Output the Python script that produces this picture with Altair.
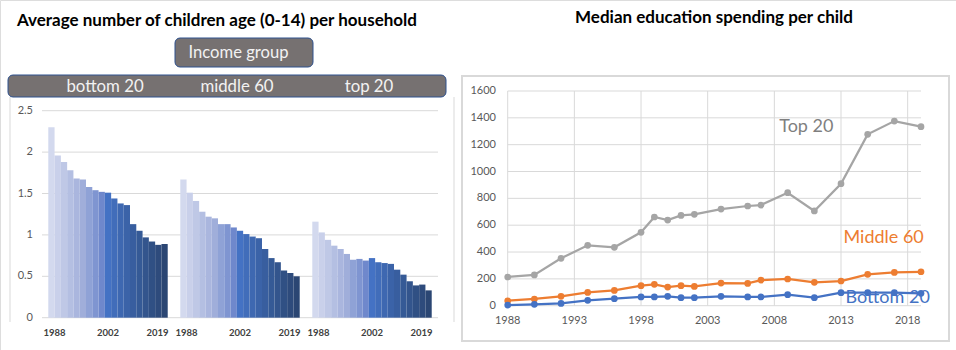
import altair as alt
import pandas as pd

# ---------------- data ----------------
years = [1988, 1990, 1992, 1994, 1996, 1998, 1999, 2000, 2001, 2002,
         2004, 2006, 2007, 2009, 2011, 2013, 2015, 2017, 2019]

groups = ["bottom 20", "middle 60", "top 20"]
children_bottom20 = [2.30, 1.96, 1.88, 1.78, 1.68, 1.67, 1.58, 1.54, 1.52, 1.51,
                     1.44, 1.38, 1.36, 1.13, 1.05, 0.97, 0.92, 0.88, 0.89]
children_middle60 = [1.67, 1.51, 1.41, 1.28, 1.22, 1.20, 1.13, 1.13, 1.09, 1.05,
                     1.01, 0.98, 0.96, 0.83, 0.72, 0.67, 0.57, 0.54, 0.50]
children_top20 = [1.16, 1.03, 0.94, 0.87, 0.83, 0.77, 0.70, 0.71, 0.69, 0.72,
                  0.67, 0.66, 0.65, 0.58, 0.52, 0.44, 0.39, 0.40, 0.33]
bar_colors = ["#D3D9EE", "#C9D0EA", "#BFC8E6", "#B4BFE2", "#AAB6DE", "#A0AEDA",
              "#8FA2D6", "#7F95D1", "#6F88CC", "#4472C4", "#416DBA", "#3E68B1",
              "#3B63A8", "#385E9F", "#355A96", "#33558D", "#305084", "#2E4B7C",
              "#2B4673"]
bar_y_ticks = [0, 0.5, 1, 1.5, 2, 2.5]
bar_x_label_years = [1988, 2002, 2019]

series = ["Top 20", "Middle 60", "Bottom 20"]
spend_top20 = [214, 229, 353, 450, 435, 547, 661, 638, 673, 681,
               720, 743, 750, 842, 706, 909, 1277, 1376, 1334]
spend_middle60 = [37, 50, 70, 99, 114, 149, 159, 139, 149, 144,
                  169, 166, 191, 199, 174, 184, 234, 248, 253]
spend_bottom20 = [5, 10, 17, 40, 52, 65, 65, 70, 60, 60,
                  70, 65, 65, 82, 60, 97, 97, 97, 92]
series_colors = ["#A5A5A5", "#ED7D31", "#4472C4"]
series_label_colors = ["#7F7F7F", "#ED7D31", "#4472C4"]
series_label_year = [2010.4, 2016.2, 2016.5]
series_label_value = [1332, 507, 57]
line_y_ticks = [0, 200, 400, 600, 800, 1000, 1200, 1400, 1600]
line_x_ticks = [1988, 1993, 1998, 2003, 2008, 2013, 2018]

left_title = "Average number of children age (0-14) per household"
right_title = "Median education spending per child"
header_title = "Income group"

FONT = "Lato"
GRID = "#D9D9D9"
LABEL = "#595959"

# ---------------- tables ----------------
GAP = 2
per_group = len(years) + GAP
total_slots = 1 + len(groups) * len(years) + (len(groups) - 1) * GAP + 1

bar_rows, tick_rows, group_rows = [], [], []
for gi, (g, vals) in enumerate(zip(groups, [children_bottom20, children_middle60, children_top20])):
    start = 1 + gi * per_group
    for i, (yr, v) in enumerate(zip(years, vals)):
        bar_rows.append({"group": g, "year": str(yr), "slot": start + i,
                         "slot_end": start + i + 1, "value": v, "base": 0})
    for k, yr in enumerate(bar_x_label_years):
        tick_rows.append({"slot": start + years.index(yr) + 0.5, "label": str(yr), "pos": k})
    group_rows.append({"slot": start + len(years) / 2, "group": g})
bar_df = pd.DataFrame(bar_rows)
bar_tick_df = pd.DataFrame(tick_rows)
group_df = pd.DataFrame(group_rows)
bar_y_df = pd.DataFrame({"v": bar_y_ticks, "label": [f"{v:g}" for v in bar_y_ticks]})

line_rows = []
for s, vals in zip(series, [spend_top20, spend_middle60, spend_bottom20]):
    for yr, v in zip(years, vals):
        line_rows.append({"series": s, "year": yr, "value": v})
line_df = pd.DataFrame(line_rows)
ly_df = pd.DataFrame({"v": line_y_ticks, "label": [str(v) for v in line_y_ticks]})
lx_df = pd.DataFrame({"v": line_x_ticks, "label": [str(v) for v in line_x_ticks]})
series_df = pd.DataFrame({"series": series, "year": series_label_year, "value": series_label_value})

# ---------------- scales ----------------
bx = alt.Scale(domain=[0, total_slots], range=[42, 438], nice=False, zero=False)
by = alt.Scale(domain=[0, 2.5], range=[317.7, 110.7], nice=False, zero=False)
lx = alt.Scale(domain=[1988, 2019], range=[507.7, 921], nice=False, zero=False)
ly = alt.Scale(domain=[0, 1600], range=[305.7, 91], nice=False, zero=False)

one = pd.DataFrame({"t": [0]})
layers = []

# left frame lines
layers.append(alt.Chart(pd.DataFrame({"x": [0, 1]})).mark_rule(color=GRID, strokeWidth=1).encode(
    x=alt.X("x:Q", scale=alt.Scale(domain=[0, 1], range=[10, 454]), axis=None),
    y=alt.value(97), y2=alt.value(322)))

# titles
layers.append(alt.Chart(pd.DataFrame({"t": [left_title]})).mark_text(
    font=FONT, fontSize=17, fontWeight="bold", align="left", baseline="middle", color="#000000"
).encode(x=alt.value(17), y=alt.value(21), text="t:N"))
layers.append(alt.Chart(pd.DataFrame({"t": [right_title]})).mark_text(
    font=FONT, fontSize=17, fontWeight="bold", align="center", baseline="middle", color="#000000"
).encode(x=alt.value(714), y=alt.value(18), text="t:N"))

# header boxes
layers.append(alt.Chart(one).mark_rect(cornerRadius=5, fill="#767171", stroke="#2F528F", strokeWidth=1).encode(
    x=alt.value(175), x2=alt.value(313), y=alt.value(38), y2=alt.value(67)))
layers.append(alt.Chart(pd.DataFrame({"t": [header_title]})).mark_text(
    font=FONT, fontSize=16.6, color="#F2F2F2", align="center", baseline="middle"
).encode(x=alt.value(238.5), y=alt.value(52.5), text="t:N"))
layers.append(alt.Chart(one).mark_rect(cornerRadius=5, fill="#767171", stroke="#2F528F", strokeWidth=1).encode(
    x=alt.value(8), x2=alt.value(446), y=alt.value(75), y2=alt.value(97)))
layers.append(alt.Chart(group_df).mark_text(
    font=FONT, fontSize=16.8, color="#F2F2F2", align="center", baseline="middle", dx=-3
).encode(x=alt.X("slot:Q", scale=bx, axis=None), y=alt.value(87), text="group:N"))

# bar grid
layers.append(alt.Chart(bar_y_df).mark_rule(color=GRID, strokeWidth=1).encode(
    y=alt.Y("v:Q", scale=by, axis=None), x=alt.value(42), x2=alt.value(438)))
# bars
layers.append(alt.Chart(bar_df).mark_bar(strokeWidth=0).encode(
    x=alt.X("slot:Q", scale=bx, axis=None),
    x2="slot_end:Q",
    y=alt.Y("value:Q", scale=by, axis=None),
    y2="base:Q",
    color=alt.Color("year:N", scale=alt.Scale(domain=[str(y) for y in years], range=bar_colors), legend=None),
))
# bar y labels
layers.append(alt.Chart(bar_y_df).mark_text(
    font=FONT, fontSize=11, color=LABEL, align="right", baseline="middle"
).encode(y=alt.Y("v:Q", scale=by, axis=None), x=alt.value(33), text="label:N"))
# bar x labels (first label nudged right, last nudged left, as in the reference)
for k, dx in zip(range(len(bar_x_label_years)), [3, 0, -7]):
    layers.append(alt.Chart(bar_tick_df).transform_filter(alt.datum.pos == k).mark_text(
        font=FONT, fontSize=9.5, fontWeight="bold", color="#404040", align="center",
        baseline="middle", dx=dx
    ).encode(x=alt.X("slot:Q", scale=bx, axis=None), y=alt.value(333), text="label:N"))

# right box
layers.append(alt.Chart(one).mark_rect(fill="white", stroke=GRID, strokeWidth=2).encode(
    x=alt.value(462), x2=alt.value(949), y=alt.value(76), y2=alt.value(341)))
# line grid
layers.append(alt.Chart(ly_df).mark_rule(color=GRID, strokeWidth=1).encode(
    y=alt.Y("v:Q", scale=ly, axis=None), x=alt.value(507.7), x2=alt.value(921)))
layers.append(alt.Chart(lx_df).mark_rule(color=GRID, strokeWidth=1).encode(
    x=alt.X("v:Q", scale=lx, axis=None), y=alt.value(91), y2=alt.value(305.7)))
# line labels
layers.append(alt.Chart(ly_df).mark_text(
    font=FONT, fontSize=11, color=LABEL, align="right", baseline="middle"
).encode(y=alt.Y("v:Q", scale=ly, axis=None), x=alt.value(496), text="label:N"))
layers.append(alt.Chart(lx_df).mark_text(
    font=FONT, fontSize=11, color=LABEL, align="center", baseline="middle"
).encode(x=alt.X("v:Q", scale=lx, axis=None), y=alt.value(321), text="label:N"))

# lines + markers
cscale = alt.Scale(domain=series, range=series_colors)
layers.append(alt.Chart(line_df).mark_line(strokeWidth=2.25).encode(
    x=alt.X("year:Q", scale=lx, axis=None),
    y=alt.Y("value:Q", scale=ly, axis=None),
    color=alt.Color("series:N", scale=cscale, legend=None),
    detail="series:N"))
layers.append(alt.Chart(line_df).mark_circle(size=45, opacity=1).encode(
    x=alt.X("year:Q", scale=lx, axis=None),
    y=alt.Y("value:Q", scale=ly, axis=None),
    color=alt.Color("series:N", scale=cscale, legend=None)))
# series labels
layers.append(alt.Chart(series_df).mark_text(
    font=FONT, fontSize=18, align="center", baseline="middle"
).encode(
    x=alt.X("year:Q", scale=lx, axis=None),
    y=alt.Y("value:Q", scale=ly, axis=None),
    text="series:N",
    color=alt.Color("series:N", scale=alt.Scale(domain=series, range=series_label_colors), legend=None)))

chart = alt.layer(*layers).resolve_scale(
    x="independent", y="independent", color="independent"
).properties(
    width=956, height=350, padding=0, autosize=alt.AutoSizeParams(type="none")
).configure_view(stroke=None).configure(background="white")

chart.save("out.html", embed_options={"renderer": "svg", "actions": False})
